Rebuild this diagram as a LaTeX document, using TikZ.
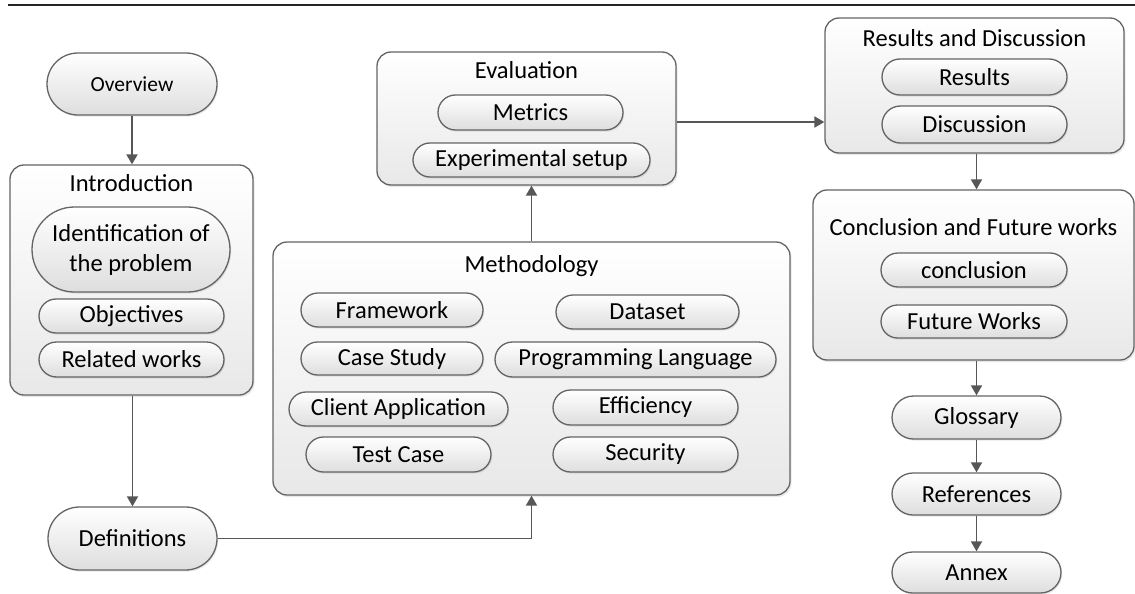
\documentclass[tikz,border=0pt]{standalone}
\usepackage{fontspec}
\setmainfont{Carlito}
\usetikzlibrary{shapes.misc,arrows.meta,shadows,calc}
\definecolor{edgegray}{HTML}{646464}
\definecolor{arrowgray}{HTML}{575757}
\begin{document}
\begin{tikzpicture}[x=1pt,y=-1pt,
  pill/.style={rounded rectangle, draw=edgegray, line width=1.3pt,
    top color=white, bottom color=black!13, inner sep=0pt,
    font=\fontsize{24.5}{30}\selectfont, text=black,
    drop shadow={shadow xshift=1.2pt, shadow yshift=-1.6pt, opacity=0.18}},
  panel/.style={rectangle, rounded corners=14pt, draw=edgegray, line width=1.3pt,
    top color=white, bottom color=black!9, inner sep=0pt,
    drop shadow={shadow xshift=1.5pt, shadow yshift=-2pt, opacity=0.18}},
  title/.style={inner sep=0pt, font=\fontsize{24.5}{30}\selectfont, text=black},
  flow/.style={draw=arrowgray, line width=1.9pt, -{Triangle[width=11pt,length=10pt]}},
  wire/.style={draw=arrowgray, line width=1.9pt}]

\useasboundingbox (0,0) rectangle (1135,594);

% top rule
\draw[line width=1.4pt, black!85] (8,5) -- (1135,5);

% left column
\node[pill, minimum width=170pt, minimum height=62pt, font=\fontsize{21.5}{26}\selectfont] (ov) at (132,84) {Overview};

\node[panel, minimum width=243pt, minimum height=230pt] (intro) at (131.5,280) {};
\node[title] (introT) at (131.5,183) {Introduction};
\node[pill, minimum width=198pt, minimum height=85pt, align=center] (idp) at (131,249.5) {Identification of\\the problem};
\node[pill, minimum width=185pt, minimum height=34pt] (obj) at (131.5,316) {Objectives};
\node[pill, minimum width=185pt, minimum height=35pt] (rel) at (131.5,359.5) {Related works};

\node[pill, minimum width=169pt, minimum height=63pt] (def) at (132.5,538.5) {Definitions};

% evaluation
\node[panel, minimum width=299pt, minimum height=133pt] (eval) at (526.5,118.5) {};
\node[title] (evalT) at (526.5,70) {Evaluation};
\node[pill, minimum width=185pt, minimum height=35pt] (met) at (530.5,112.5) {Metrics};
\node[pill, minimum width=237pt, minimum height=34pt] (exp) at (531.5,160) {Experimental setup};

% methodology
\node[panel, minimum width=517pt, minimum height=253pt] (meth) at (531.5,368.5) {};
\node[title] (methT) at (531.5,266) {Methodology};
\node[pill, minimum width=182pt, minimum height=34pt] (fw) at (392,310) {Framework};
\node[pill, minimum width=182pt, minimum height=33pt] (cs) at (392,358.5) {Case Study};
\node[pill, minimum width=219pt, minimum height=34pt] (ca) at (398.5,409) {Client Application};
\node[pill, minimum width=185pt, minimum height=35pt] (tc) at (398.5,454.5) {Test Case};
\node[pill, minimum width=183pt, minimum height=34pt] (ds) at (647.5,312) {Dataset};
\node[pill, minimum width=281pt, minimum height=35pt] (pl) at (635.5,359.5) {Programming Language};
\node[pill, minimum width=185pt, minimum height=35pt] (ef) at (645.5,407.5) {Efficiency};
\node[pill, minimum width=185pt, minimum height=35pt] (se) at (645.5,454.5) {Security};

% results and discussion
\node[panel, minimum width=299pt, minimum height=135pt] (res) at (974.5,85.5) {};
\node[title] (resT) at (974.5,38) {Results and Discussion};
\node[pill, minimum width=185pt, minimum height=36pt] (rs) at (974.5,77) {Results};
\node[pill, minimum width=185pt, minimum height=37pt] (dc) at (974.5,124.5) {Discussion};

% conclusion and future works
\node[panel, minimum width=321pt, minimum height=170pt] (conc) at (973.5,275) {};
\node[title] (concT) at (973.5,227) {Conclusion and Future works};
\node[pill, minimum width=186pt, minimum height=34pt] (cl) at (974,270) {conclusion};
\node[pill, minimum width=186pt, minimum height=33pt] (fu) at (974,321.5) {Future Works};

% back matter
\node[pill, minimum width=169pt, minimum height=43pt] (glo) at (976.5,417.5) {Glossary};
\node[pill, minimum width=169pt, minimum height=42pt] (ref) at (976.5,494) {References};
\node[pill, minimum width=169pt, minimum height=41pt] (anx) at (976.5,572.5) {Annex};

% connectors
\draw[flow] (ov.south) -- (ov.south |- intro.north);
\draw[flow] (intro.south -| def.north) -- (def.north);
\draw[wire] (def.east) -- (def.east -| meth.south);
\draw[flow] (def.east -| meth.south) -- (meth.south);
\draw[flow] (meth.north) -- (meth.north |- eval.south);
\draw[flow] ([yshift=-3.5pt]eval.east) -- ([yshift=-3.5pt]eval.east -| res.west);
\draw[flow] (glo.north |- res.south) -- (glo.north |- conc.north);
\draw[flow] (glo.north |- conc.south) -- (glo.north);
\draw[flow] (glo.south) -- (ref.north);
\draw[flow] (ref.south) -- (anx.north);
\end{tikzpicture}
\end{document}
